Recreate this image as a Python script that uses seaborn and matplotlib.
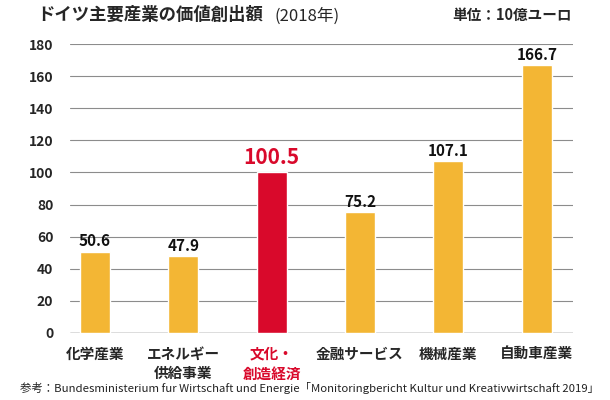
import matplotlib.pyplot as plt
import pandas as pd
import seaborn as sns

INDUSTRIES = ["化学産業", "エネルギー\n供給事業", "文化・\n創造経済", "金融サービス", "機械産業", "自動車産業"]
VALUES = [50.6, 47.9, 100.5, 75.2, 107.1, 166.7]
VALUE_LABELS = ["50.6", "47.9", "100.5", "75.2", "107.1", "166.7"]
Y_TICKS = [0, 20, 40, 60, 80, 100, 120, 140, 160, 180]
HIGHLIGHT = "文化・\n創造経済"

ORANGE = "#F3B634"
RED = "#D9092B"

sns.set_style("white")
plt.rcParams["font.family"] = ["Noto Sans CJK JP", "DejaVu Sans"]

data = pd.DataFrame({"Industry": INDUSTRIES, "Value": VALUES})
palette = {name: (RED if name == HIGHLIGHT else ORANGE) for name in INDUSTRIES}

figure = plt.figure(figsize=(6.1, 4.0), dpi=100)
axis = figure.add_axes([70 / 610, 67 / 400, 503 / 610, 289 / 400])

sns.barplot(
    data=data,
    x="Industry",
    y="Value",
    hue="Industry",
    palette=palette,
    saturation=1,
    width=0.34,
    legend=False,
    ax=axis,
    zorder=3,
)

axis.set_xlim(-0.28, 5.41)
axis.set_ylim(0, 180)
axis.set_yticks(Y_TICKS)
axis.set_yticklabels([str(t) for t in Y_TICKS], fontsize=10, fontweight="bold")
for tick in Y_TICKS:
    axis.axhline(tick, color="#555555" if tick == 0 else "#8c8c8c", linewidth=1.0 if tick == 0 else 0.8, zorder=1)
axis.tick_params(axis="y", length=0, pad=12)
axis.tick_params(axis="x", length=0, pad=9)
for label, name in zip(axis.get_xticklabels(), INDUSTRIES):
    label.set_fontsize(10.5)
    label.set_fontweight("bold")
    label.set_linespacing(1.3)
    label.set_verticalalignment("top")
    if name == HIGHLIGHT:
        label.set_color(RED)
sns.despine(ax=axis, left=True, bottom=True)
axis.set(xlabel="", ylabel="")

for position, (value, text) in enumerate(zip(VALUES, VALUE_LABELS)):
    if INDUSTRIES[position] == HIGHLIGHT:
        axis.text(position, value + 2, text, ha="center", va="bottom",
                  fontsize=15, fontweight="bold", color=RED)
    else:
        axis.text(position, value + 1.5, text, ha="center", va="bottom",
                  fontsize=11, fontweight="bold", color="#111111")

figure.text(37 / 610, 1 - 15 / 400, "ドイツ主要産業の価値創出額", fontsize=12.5,
            fontweight="bold", va="center", ha="left")
figure.text(274 / 610, 1 - 16 / 400, "(2018年)", fontsize=12, va="center", ha="left")
figure.text(572 / 610, 1 - 15 / 400, "単位：10億ユーロ", fontsize=10.5,
            fontweight="bold", va="center", ha="right")
figure.text(20 / 610, 1 - 388 / 400,
            "参考：Bundesministerium fur Wirtschaft und Energie「Monitoringbericht Kultur und Kreativwirtschaft 2019」",
            fontsize=8.2, va="center", ha="left", color="#222222")

figure.savefig("out.png", dpi=100)
